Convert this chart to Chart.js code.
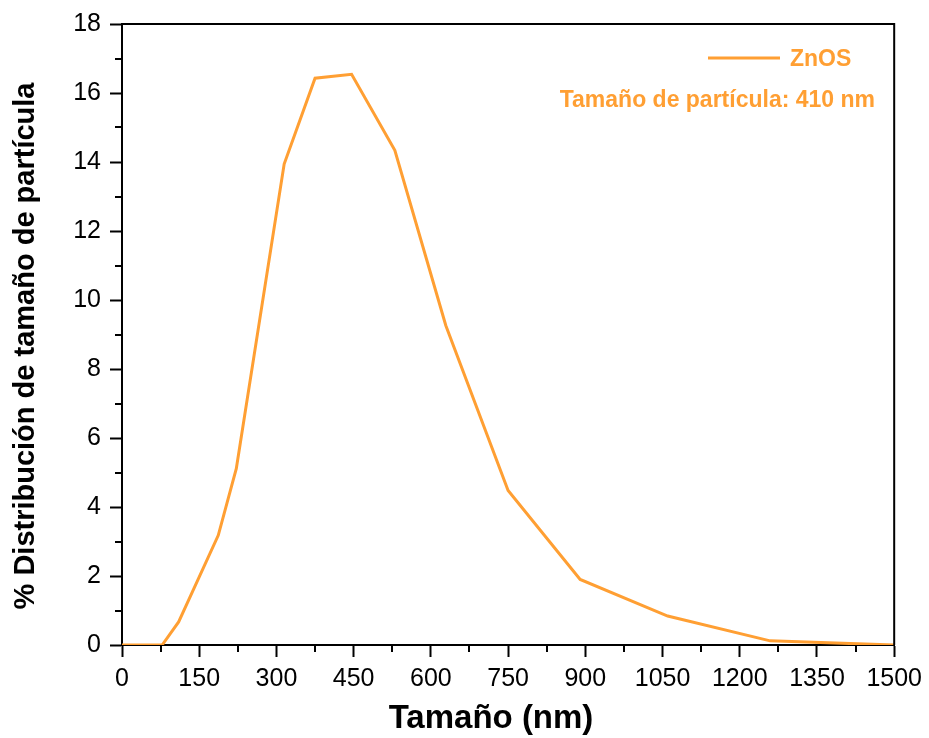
<!DOCTYPE html>
<html>
<head>
<meta charset="utf-8">
<script src="https://cdn.jsdelivr.net/npm/chart.js@4/dist/chart.umd.min.js"></script>
<style>
  html, body { margin: 0; padding: 0; background: #fff; }
  #wrap { width: 929px; height: 738px; }
</style>
</head>
<body>
<div id="wrap"><canvas id="chart" width="929" height="738"></canvas></div>
<script>
// datos
const tamanos = [0, 78, 110, 187, 222, 315, 375, 446, 530, 629, 750, 890, 1060, 1259, 1500];
const distribucion = [0, 0, 0.67, 3.18, 5.11, 13.94, 16.43, 16.54, 14.34, 9.26, 4.48, 1.90, 0.84, 0.12, 0];
const xTicks = [0, 150, 300, 450, 600, 750, 900, 1050, 1200, 1350, 1500];
const yTicks = [0, 2, 4, 6, 8, 10, 12, 14, 16, 18];
const serie = 'ZnOS';
const nota = 'Tamaño de partícula: 410 nm';
const tituloX = 'Tamaño (nm)';
const tituloY = '% Distribución de tamaño de partícula';
const naranja = '#FF9F33';
const fuente = '"Liberation Sans", Arial, sans-serif';

// ticks menores + marco + leyenda + titulos de ejes
const extras = {
  id: 'extras',
  afterDraw(chart) {
    const { ctx, chartArea: a, scales } = chart;
    ctx.save();
    ctx.strokeStyle = '#000';
    ctx.lineWidth = 2;
    // marco superior y derecho
    ctx.beginPath();
    ctx.moveTo(a.left, a.top);
    ctx.lineTo(a.right, a.top);
    ctx.lineTo(a.right, a.bottom);
    ctx.stroke();
    // ticks menores
    ctx.beginPath();
    for (let v = 75; v < 1500; v += 150) {
      const x = Math.round(scales.x.getPixelForValue(v));
      ctx.moveTo(x, a.bottom);
      ctx.lineTo(x, a.bottom + 7);
    }
    for (let v = 1; v < 18; v += 2) {
      const y = Math.round(scales.y.getPixelForValue(v));
      ctx.moveTo(a.left, y);
      ctx.lineTo(a.left - 7, y);
    }
    ctx.stroke();
    // titulos
    ctx.fillStyle = '#000';
    ctx.textAlign = 'center';
    ctx.textBaseline = 'middle';
    ctx.font = 'bold 33px ' + fuente;
    ctx.fillText(tituloX, 491, 719);
    ctx.save();
    ctx.translate(26, 346);
    ctx.rotate(-Math.PI / 2);
    ctx.font = 'bold 29px ' + fuente;
    ctx.fillText(tituloY, 0, 0);
    ctx.restore();
    // leyenda
    ctx.strokeStyle = naranja;
    ctx.lineWidth = 3;
    ctx.beginPath();
    ctx.moveTo(708, 58);
    ctx.lineTo(780, 58);
    ctx.stroke();
    ctx.fillStyle = naranja;
    ctx.font = 'bold 23px ' + fuente;
    ctx.textAlign = 'left';
    ctx.fillText(serie, 790, 60);
    ctx.textAlign = 'right';
    ctx.fillText(nota, 875, 101);
    ctx.restore();
  }
};

const ctx = document.getElementById('chart').getContext('2d');
new Chart(ctx, {
  type: 'line',
  data: {
    datasets: [{
      label: serie,
      data: tamanos.map((t, i) => ({ x: t, y: distribucion[i] })),
      borderColor: naranja,
      borderWidth: 3,
      pointRadius: 0,
      tension: 0,
      fill: false
    }]
  },
  options: {
    responsive: false,
    animation: false,
    layout: { padding: { top: 23, right: 34, left: 0, bottom: 0 } },
    plugins: { legend: { display: false }, tooltip: { enabled: false } },
    scales: {
      x: {
        type: 'linear',
        min: 0, max: 1500,
        afterBuildTicks: s => { s.ticks = xTicks.map(v => ({ value: v })); },
        afterFit: s => { s.height = 93; },
        border: { color: '#000', width: 2 },
        grid: { drawOnChartArea: false, tickLength: 12, tickColor: '#000', tickWidth: 2 },
        ticks: {
          color: '#000', maxRotation: 0, padding: 7,
          callback: v => String(v),
          font: { family: fuente, size: 25 }
        }
      },
      y: {
        type: 'linear',
        min: 0, max: 18,
        afterBuildTicks: s => { s.ticks = yTicks.map(v => ({ value: v })); },
        afterFit: s => { s.width = 122; },
        border: { color: '#000', width: 2 },
        grid: { drawOnChartArea: false, tickLength: 12, tickColor: '#000', tickWidth: 2 },
        ticks: {
          color: '#000', padding: 9,
          callback: v => String(v),
          font: { family: fuente, size: 25 }
        }
      }
    }
  },
  plugins: [extras]
});
</script>
</body>
</html>
